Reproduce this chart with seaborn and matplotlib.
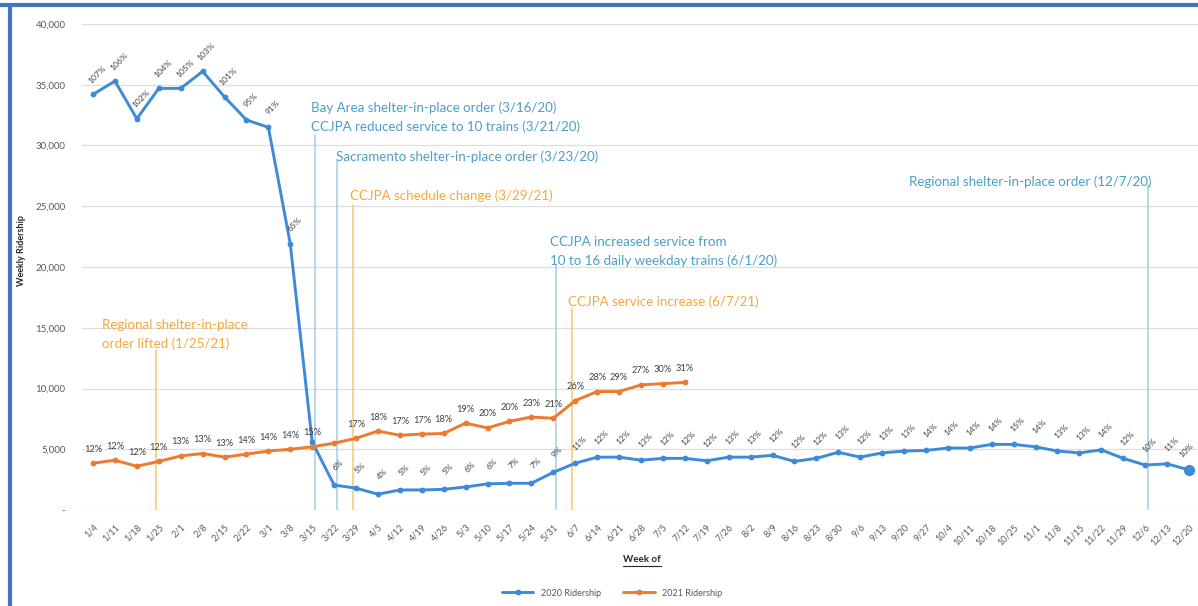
import datetime as dt

import matplotlib
matplotlib.use("Agg")
import matplotlib.pyplot as plt
import numpy as np
import pandas as pd
import seaborn as sns
from matplotlib.lines import Line2D

# ---------------------------------------------------------------- data
weeks = ["1/4", "1/11", "1/18", "1/25", "2/1", "2/8", "2/15", "2/22", "3/1",
         "3/8", "3/15", "3/22", "3/29", "4/5", "4/12", "4/19", "4/26", "5/3",
         "5/10", "5/17", "5/24", "5/31", "6/7", "6/14", "6/21", "6/28", "7/5",
         "7/12", "7/19", "7/26", "8/2", "8/9", "8/16", "8/23", "8/30", "9/6",
         "9/13", "9/20", "9/27", "10/4", "10/11", "10/18", "10/25", "11/1",
         "11/8", "11/15", "11/22", "11/29", "12/6", "12/13", "12/20"]

ridership_2020 = [34200, 35300, 32200, 34700, 34700, 36100, 34000, 32100, 31500,
                  21900, 5600, 2050, 1800, 1300, 1650, 1650, 1700, 1900,
                  2150, 2200, 2200, 3100, 3850, 4350, 4350, 4100, 4250,
                  4250, 4050, 4350, 4350, 4500, 4000, 4250, 4750, 4350,
                  4700, 4850, 4900, 5100, 5100, 5400, 5400, 5200,
                  4850, 4700, 4950, 4250, 3700, 3800, 3300]

ridership_2021 = [3850, 4100, 3600, 4000, 4450, 4650, 4350, 4600, 4850,
                  5000, 5200, 5500, 5900, 6500, 6150, 6250, 6300, 7150,
                  6750, 7300, 7650, 7550, 9000, 9750, 9750, 10300, 10400,
                  10500]

# share of the matching 2019 week, printed above each point
pct_2020 = ["107%", "106%", "102%", "104%", "105%", "103%", "101%", "95%", "91%",
            "65%", None, "6%", "5%", "4%", "5%", "5%", "5%", "6%",
            "6%", "7%", "7%", "9%", "11%", "12%", "12%", "13%", "12%",
            "12%", "12%", "13%", "13%", "12%", "12%", "12%", "13%", "12%",
            "13%", "13%", "14%", "14%", "14%", "14%", "15%", "14%",
            "13%", "13%", "14%", "12%", "10%", "11%", "10%"]

pct_2021 = ["12%", "12%", "12%", "12%", "13%", "13%", "13%", "14%", "14%",
            "14%", "15%", None, "17%", "18%", "17%", "17%", "18%", "19%",
            "20%", "20%", "23%", "21%", "26%", "28%", "29%", "27%", "30%",
            "31%"]

series_names = ["2020 Ridership", "2021 Ridership"]

# events: date, series the event belongs to, label lines
event_dates = [dt.date(2020, 3, 16), dt.date(2020, 3, 23), dt.date(2021, 3, 29),
               dt.date(2020, 6, 1), dt.date(2021, 6, 7), dt.date(2020, 12, 7),
               dt.date(2021, 1, 25)]
event_series = ["2020", "2020", "2021", "2020", "2021", "2020", "2021"]
event_labels = [
    ["Bay Area shelter-in-place order (3/16/20)",
     "CCJPA reduced service to 10 trains (3/21/20)"],
    ["Sacramento shelter-in-place order (3/23/20)"],
    ["CCJPA schedule change (3/29/21)"],
    ["CCJPA increased service from",
     "10 to 16 daily weekday trains (6/1/20)"],
    ["CCJPA service increase (6/7/21)"],
    ["Regional shelter-in-place order (12/7/20)"],
    ["Regional shelter-in-place",
     "order lifted (1/25/21)"],
]

# ---------------------------------------------------------------- styling
BLUE = "#3d8ad8"
ORANGE = "#ee7a2e"
EV_BLUE_TXT = "#4a9ec9"
EV_BLUE_LINE = "#a6cbe6"
EV_ORANGE_TXT = "#f4a83a"
EV_ORANGE_LINE = "#f6c677"
TICK_GREY = "#595959"
LABEL_GREY = "#404040"

sns.set_theme(style="white")
plt.rcParams["font.family"] = ["Lato", "DejaVu Sans"]

W, H = 1198, 606
fig = plt.figure(figsize=(W / 100, H / 100), dpi=100)
fig.patch.set_facecolor("white")

# plot area in pixel terms
left_px, right_px, top_px, bottom_px = 82, 1198, 24, 510
ax = fig.add_axes([left_px / W, 1 - bottom_px / H,
                   (right_px - left_px) / W, (bottom_px - top_px) / H])

# long-form table for seaborn
df = pd.concat([
    pd.DataFrame({"pos": np.arange(len(ridership_2020)),
                  "riders": ridership_2020, "series": series_names[0]}),
    pd.DataFrame({"pos": np.arange(len(ridership_2021)),
                  "riders": ridership_2021, "series": series_names[1]}),
], ignore_index=True)

sns.lineplot(data=df, x="pos", y="riders", hue="series",
             palette={series_names[0]: BLUE, series_names[1]: ORANGE},
             marker="o", markersize=4.2, markeredgewidth=0, linewidth=2.1,
             estimator=None, sort=False, ax=ax, zorder=3)

# emphasised final 2020 point
ax.plot(len(ridership_2020) - 1, ridership_2020[-1], "o", color=BLUE,
        markersize=7, zorder=4)

# axes
ax.set_xlim(-0.502, 50.41)
ax.set_ylim(0, 40000)
for s in ax.spines.values():
    s.set_visible(False)
ax.yaxis.grid(True, color="#dedede", linewidth=0.9)
ax.xaxis.grid(False)
ax.set_axisbelow(True)

yt = np.arange(0, 40001, 5000)
ax.set_yticks(yt)
ax.set_yticklabels(["-" if v == 0 else f"{v:,}" for v in yt],
                   fontsize=7, color=TICK_GREY)
ax.set_xticks(np.arange(len(weeks)))
ax.set_xticklabels(weeks, rotation=45, ha="right", va="top",
                   rotation_mode="anchor", fontsize=6.6, color=TICK_GREY)
ax.tick_params(axis="x", length=0, pad=9)
ax.tick_params(axis="y", length=0, pad=12)
ax.set_xlabel("")
ax.set_ylabel("")

# data labels
n20 = len(ridership_2020)
for i, (v, t) in enumerate(zip(ridership_2020, pct_2020)):
    if t is None:
        continue
    dx = 4 if i < n20 - 1 else -3   # keep the last label inside the frame
    ax.annotate(t, (i, v), xytext=(dx, 20), textcoords="offset pixels",
                rotation=45, ha="center", va="center", fontsize=6.1,
                color=LABEL_GREY, zorder=5)
for i, (v, t) in enumerate(zip(ridership_2021, pct_2021)):
    if t is None:
        continue
    ax.annotate(t, (i, v), xytext=(0, 14), textcoords="offset pixels",
                ha="center", va="center", fontsize=6.7,
                color=LABEL_GREY, zorder=5)

# event markers
def week_position(d):
    base = dt.date(d.year, 1, 5)
    return (d - base).days / 7.0

def px_to_val(y_px):
    return (bottom_px - y_px) / (bottom_px - top_px) * 40000

# layout for each event: top of line (px), first text line centre (px),
# horizontal text offset (px), alignment
event_layout = [
    (135, 108, -4, "left"),
    (160, 157, -1, "left"),
    (205, 196, -3, "left"),
    (265, 242, -6, "left"),
    (308, 302, -4, "left"),
    (185, 182, 3, "right"),
    (350, 325, -54, "left"),
]
line_gap_px = 19

for d, ser, lines, (top, ty, dx, ha) in zip(event_dates, event_series,
                                             event_labels, event_layout):
    x = week_position(d)
    lc = EV_BLUE_LINE if ser == "2020" else EV_ORANGE_LINE
    tc = EV_BLUE_TXT if ser == "2020" else EV_ORANGE_TXT
    ax.plot([x, x], [0, px_to_val(top)], color=lc, linewidth=1.1, zorder=2)
    for k, txt in enumerate(lines):
        ax.annotate(txt, (x, px_to_val(ty + k * line_gap_px)),
                    xytext=(dx, 0), textcoords="offset pixels",
                    ha=ha, va="center", fontsize=9.6, color=tc, zorder=6)

# titles
fig.text(22 / W, 1 - 250 / H, "Weekly Ridership", rotation=90,
         ha="center", va="center", fontsize=6.5, fontweight="bold",
         color="#262626")
xl = fig.text(642 / W, 1 - 560 / H, "Week of", ha="center", va="center",
              fontsize=7, fontweight="bold", color="#262626")

# legend
handles, labels = ax.get_legend_handles_labels()
if ax.get_legend() is not None:
    ax.get_legend().remove()
fig.legend(handles, labels, loc="center", bbox_to_anchor=(612 / W, 1 - 593 / H),
           ncol=2, frameon=False, fontsize=6.5, handlelength=3.5,
           columnspacing=2.5, labelcolor=TICK_GREY)

# underline the x-axis title
fig.canvas.draw()
bb = xl.get_window_extent(renderer=fig.canvas.get_renderer())
uy = (bb.y0 - 1) / H
fig.add_artist(Line2D([bb.x0 / W, bb.x1 / W], [uy, uy],
                      transform=fig.transFigure, color="#262626", linewidth=0.8))

# frame edges
fig.add_artist(Line2D([0, 1], [1 - 5 / H, 1 - 5 / H], transform=fig.transFigure,
                      color="#4472c4", linewidth=3))
fig.add_artist(Line2D([9.5 / W, 9.5 / W], [0, 1 - 5 / H],
                      transform=fig.transFigure, color="#4472c4", linewidth=3))

fig.savefig("out.png", dpi=100, facecolor="white")
